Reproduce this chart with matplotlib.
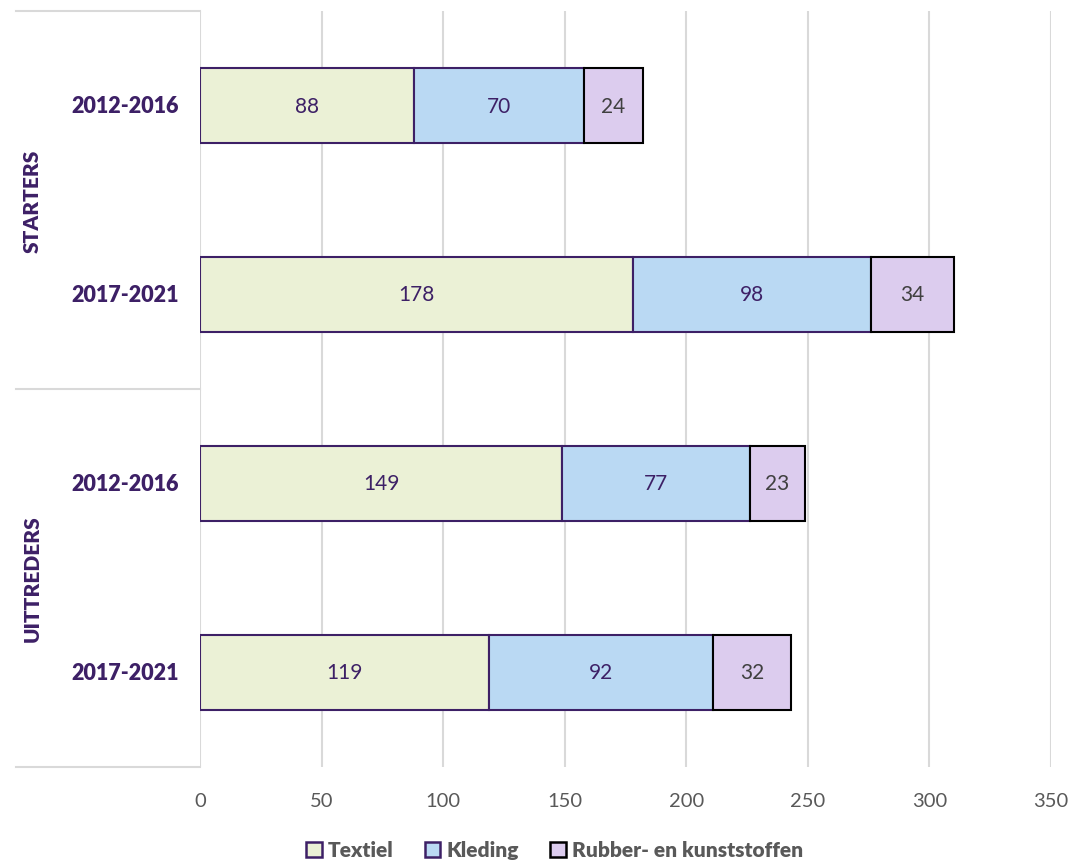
import numpy as np
import matplotlib.pyplot as plt
from matplotlib.patches import Patch
import matplotlib.transforms as mtransforms

plt.rcParams['font.family'] = ['Lato', 'DejaVu Sans']

# Data
perioden = ["2012-2016", "2017-2021", "2012-2016", "2017-2021"]
groepen = ["STARTERS", "UITTREDERS"]
textiel = [88, 178, 149, 119]
kleding = [70, 98, 77, 92]
rubber = [24, 34, 23, 32]
reeksen = ["Textiel", "Kleding", "Rubber- en kunststoffen"]

paars = "#3D2066"
grijs = "#595959"
kleuren = ["#EBF1D6", "#BAD9F3", "#DCCCEE"]
randen = [paars, paars, "black"]
labelkleur = [paars, paars, "#404040"]

fig = plt.figure(figsize=(10.73, 8.62), dpi=100)
ax = fig.add_axes([200/1073, 1 - 768/862, 851/1073, 756/862])

y = np.arange(len(perioden))
links = np.zeros(len(perioden))
for waarden, naam, fc, ec, lc in zip([textiel, kleding, rubber], reeksen, kleuren, randen, labelkleur):
    bars = ax.barh(y, waarden, left=links, height=0.4, color=fc, edgecolor=ec,
                   linewidth=1.5, label=naam, zorder=3)
    ax.bar_label(bars, labels=[str(v) for v in waarden], label_type='center',
                 color=lc, fontsize=15)
    links += np.array(waarden)

ax.set_xlim(0, 350)
ax.set_ylim(3.5, -0.5)
ax.set_xticks(np.arange(0, 351, 50))
ax.tick_params(axis='x', length=0, colors=grijs, labelsize=14.5, pad=18)
ax.set_yticks([])
for s in ax.spines.values():
    s.set_visible(False)
ax.grid(axis='x', color="#D9D9D9", linewidth=1.5, zorder=0)
ax.set_axisbelow(True)

# category labels
trans = mtransforms.blended_transform_factory(ax.transAxes, ax.transData)
for yi, p in zip(y, perioden):
    ax.text(-0.088, yi, p, transform=trans, ha='center', va='center',
            fontsize=15.5, fontweight='heavy', color=paars)
for i, g in enumerate(groepen):
    ax.text(-0.197, 2 * i + 0.5, g, transform=trans, ha='center', va='center',
            rotation=90, fontsize=15, fontweight='heavy', color=paars)
for ys in [-0.5, 1.5, 3.5]:
    ax.plot([-0.216, 0], [ys, ys], transform=trans, color="#D9D9D9",
            linewidth=1.5, clip_on=False)

handles = [Patch(facecolor=fc, edgecolor=ec, linewidth=1.8) for fc, ec in zip(kleuren, randen)]
leg = fig.legend(handles, reeksen, loc='center', bbox_to_anchor=(0.517, 1 - 851/862),
                 ncol=3, frameon=False, handlelength=0.75, handleheight=0.75,
                 handletextpad=0.3, columnspacing=1.5,
                 prop={'size': 15, 'weight': 'heavy'})
for t in leg.get_texts():
    t.set_color(grijs)

fig.savefig("out.png", dpi=100)
